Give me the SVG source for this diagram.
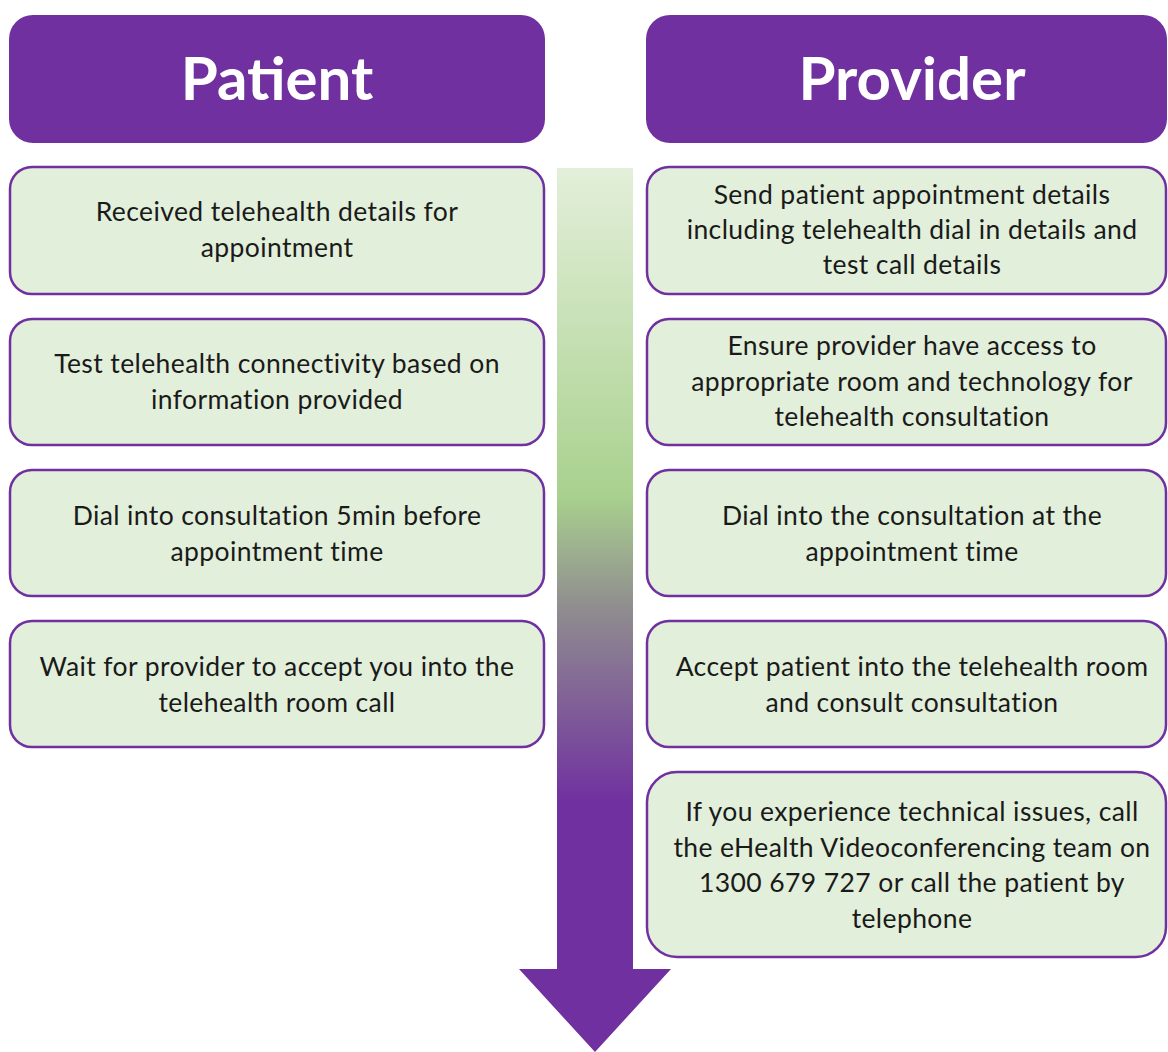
<svg xmlns="http://www.w3.org/2000/svg" width="1168" height="1052" viewBox="0 0 1168 1052">
  <defs>
    <!-- timeline arrow: pale green fading to purple -->
    <linearGradient id="flowGrad" gradientUnits="userSpaceOnUse" x1="0" y1="168" x2="0" y2="1052">
      <stop offset="0" stop-color="#e3efda"/>
      <stop offset="0.37" stop-color="#a9d18e"/>
      <stop offset="0.5" stop-color="#8f8c8f"/>
      <stop offset="0.72" stop-color="#7030a0"/>
      <stop offset="1" stop-color="#7030a0"/>
    </linearGradient>
    <style>
      .hdr { fill: #7030a0; }
      .hdr-txt { fill: #ffffff; font-family: Lato, "Liberation Sans", sans-serif; font-weight: bold; font-size: 60px; text-anchor: middle; }
      .step { fill: #e2efda; stroke: #7030a0; stroke-width: 2.5; }
      .step-txt { fill: #1a1a1a; font-family: Lato, "Liberation Sans", sans-serif; font-size: 26.5px; letter-spacing: 0.4px; text-anchor: middle; }
    </style>
  </defs>

  <rect width="1168" height="1052" fill="#ffffff"/>

  <!-- timeline arrow -->
  <g id="timeline">
    <path d="M557,168 H633 V969 H671 L595,1052 L519,969 H557 Z" fill="url(#flowGrad)"/>
  </g>

  <!-- column headers -->
  <g id="hdr-patient">
    <rect class="hdr" x="9" y="15" width="536" height="128" rx="24"/>
    <text class="hdr-txt" x="277" y="100">Patient</text>
  </g>
  <g id="hdr-provider">
    <rect class="hdr" x="646" y="15" width="521" height="128" rx="24"/>
    <text class="hdr-txt" x="912" y="100">Provider</text>
  </g>

  <!-- patient steps -->
  <g id="patient-1">
    <rect class="step" x="10" y="167" width="534" height="127" rx="22"/>
    <text class="step-txt" x="277" y="221">Received telehealth details for</text>
    <text class="step-txt" x="277" y="257">appointment</text>
  </g>
  <g id="patient-2">
    <rect class="step" x="10" y="319" width="534" height="126" rx="22"/>
    <text class="step-txt" x="277" y="373">Test telehealth connectivity based on</text>
    <text class="step-txt" x="277" y="409">information provided</text>
  </g>
  <g id="patient-3">
    <rect class="step" x="10" y="470" width="534" height="126" rx="22"/>
    <text class="step-txt" x="277" y="525">Dial into consultation 5min before</text>
    <text class="step-txt" x="277" y="561">appointment time</text>
  </g>
  <g id="patient-4">
    <rect class="step" x="10" y="621" width="534" height="126" rx="22"/>
    <text class="step-txt" x="277" y="676">Wait for provider to accept you into the</text>
    <text class="step-txt" x="277" y="712">telehealth room call</text>
  </g>

  <!-- provider steps -->
  <g id="provider-1">
    <rect class="step" x="647" y="167" width="519" height="127" rx="22"/>
    <text class="step-txt" x="912" y="204">Send patient appointment details</text>
    <text class="step-txt" x="912" y="239">including telehealth dial in details and</text>
    <text class="step-txt" x="912" y="274">test call details</text>
  </g>
  <g id="provider-2">
    <rect class="step" x="647" y="319" width="519" height="126" rx="22"/>
    <text class="step-txt" x="912" y="355">Ensure provider have access to</text>
    <text class="step-txt" x="912" y="391">appropriate room and technology for</text>
    <text class="step-txt" x="912" y="426">telehealth consultation</text>
  </g>
  <g id="provider-3">
    <rect class="step" x="647" y="470" width="519" height="126" rx="22"/>
    <text class="step-txt" x="912" y="525">Dial into the consultation at the</text>
    <text class="step-txt" x="912" y="561">appointment time</text>
  </g>
  <g id="provider-4">
    <rect class="step" x="647" y="621" width="519" height="126" rx="22"/>
    <text class="step-txt" x="912" y="676">Accept patient into the telehealth room</text>
    <text class="step-txt" x="912" y="712">and consult consultation</text>
  </g>
  <g id="provider-5">
    <rect class="step" x="647" y="772" width="519" height="185" rx="30"/>
    <text class="step-txt" x="912" y="821">If you experience technical issues, call</text>
    <text class="step-txt" x="912" y="857">the eHealth Videoconferencing team on</text>
    <text class="step-txt" x="912" y="892">1300 679 727 or call the patient by</text>
    <text class="step-txt" x="912" y="928">telephone</text>
  </g>
</svg>
